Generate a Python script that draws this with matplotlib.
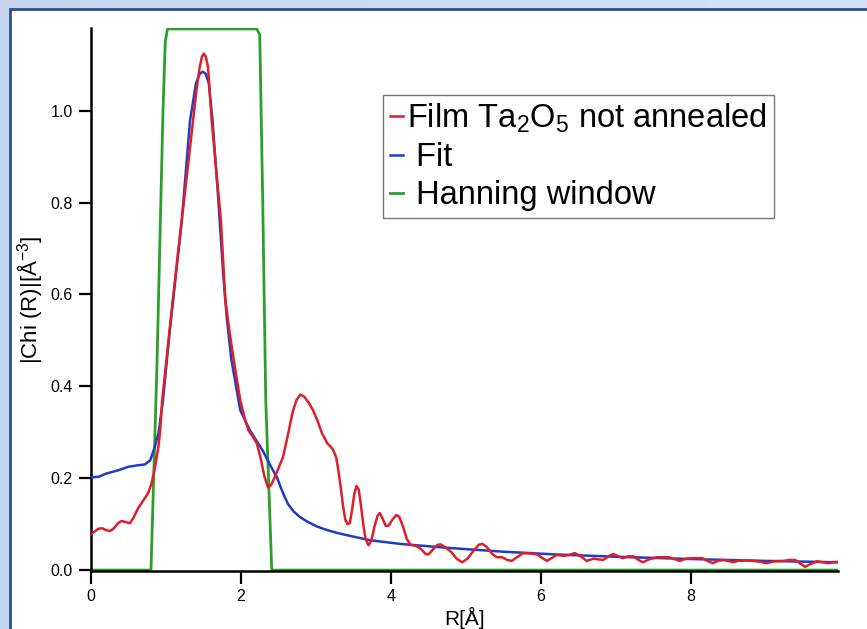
import matplotlib
matplotlib.use("Agg")
import matplotlib.pyplot as plt
import numpy as np
from matplotlib.patches import Rectangle

plt.rcParams['font.family'] = ['Liberation Sans', 'DejaVu Sans']
plt.rcParams['mathtext.default'] = 'regular'

# Film Ta2O5 not annealed (red)
film_r = [0.0, 0.05, 0.10, 0.15, 0.20, 0.25, 0.30, 0.36, 0.41, 0.47, 0.52, 0.57,
          0.63, 0.70, 0.76, 0.80, 0.83, 0.86, 0.88, 0.90, 0.92, 0.95, 1.02, 1.09,
          1.16, 1.23, 1.30, 1.36, 1.41, 1.45, 1.48, 1.505, 1.53, 1.56, 1.61, 1.67,
          1.73, 1.76, 1.79, 1.85, 1.92, 1.99, 2.05, 2.10, 2.16, 2.21, 2.26, 2.31,
          2.36, 2.40, 2.45, 2.50, 2.56, 2.62, 2.69, 2.74, 2.79, 2.84, 2.90, 2.96,
          3.02, 3.08, 3.15, 3.20, 3.23, 3.27, 3.30, 3.33, 3.36, 3.39, 3.42, 3.45,
          3.48, 3.51, 3.54, 3.57, 3.60, 3.63, 3.66, 3.70, 3.74, 3.78, 3.82, 3.85,
          3.88, 3.93, 3.97, 4.02, 4.07, 4.11, 4.16, 4.21, 4.26, 4.33, 4.40, 4.46,
          4.50, 4.56, 4.62, 4.66, 4.72, 4.80, 4.88, 4.95, 5.02, 5.10, 5.17, 5.22,
          5.28, 5.35, 5.41, 5.48, 5.55, 5.61, 5.68, 5.76, 5.85, 5.95, 6.02, 6.08,
          6.14, 6.21, 6.30, 6.38, 6.45, 6.53, 6.61, 6.70, 6.78, 6.83, 6.90, 6.96,
          7.03, 7.09, 7.16, 7.23, 7.30, 7.36, 7.45, 7.55, 7.70, 7.78, 7.85, 7.94,
          8.03, 8.15, 8.22, 8.29, 8.36, 8.43, 8.50, 8.56, 8.63, 8.70, 8.83, 8.92,
          9.01, 9.10, 9.23, 9.32, 9.39, 9.45, 9.52, 9.59, 9.68, 9.76, 9.83, 9.90, 9.96]
film_chi = [0.078, 0.084, 0.090, 0.091, 0.087, 0.085, 0.090, 0.102, 0.107, 0.104, 0.102, 0.115,
            0.135, 0.152, 0.167, 0.185, 0.205, 0.230, 0.250, 0.270, 0.300, 0.370, 0.480, 0.587,
            0.690, 0.790, 0.890, 0.978, 1.050, 1.095, 1.118, 1.124, 1.118, 1.095, 0.978, 0.870,
            0.765, 0.680, 0.590, 0.515, 0.440, 0.370, 0.330, 0.304, 0.290, 0.276, 0.245, 0.205,
            0.180, 0.185, 0.202, 0.222, 0.246, 0.290, 0.345, 0.370, 0.382, 0.378, 0.365, 0.348,
            0.325, 0.298, 0.276, 0.268, 0.261, 0.245, 0.215, 0.180, 0.140, 0.110, 0.100, 0.102,
            0.130, 0.165, 0.183, 0.175, 0.140, 0.100, 0.068, 0.054, 0.065, 0.095, 0.118, 0.124,
            0.115, 0.096, 0.097, 0.110, 0.120, 0.116, 0.095, 0.068, 0.055, 0.053, 0.046, 0.035,
            0.034, 0.045, 0.055, 0.056, 0.050, 0.040, 0.024, 0.017, 0.025, 0.042, 0.055, 0.057,
            0.050, 0.035, 0.028, 0.028, 0.022, 0.020, 0.028, 0.037, 0.036, 0.034, 0.026, 0.020,
            0.026, 0.033, 0.031, 0.033, 0.037, 0.030, 0.020, 0.025, 0.023, 0.022, 0.030, 0.035,
            0.030, 0.026, 0.030, 0.030, 0.022, 0.017, 0.024, 0.028, 0.028, 0.024, 0.020, 0.025,
            0.026, 0.026, 0.020, 0.015, 0.020, 0.022, 0.020, 0.017, 0.020, 0.021, 0.020, 0.018,
            0.015, 0.019, 0.020, 0.022, 0.022, 0.015, 0.007, 0.013, 0.019, 0.017, 0.015, 0.017, 0.018]

# Fit (blue)
fit_r = [0.0, 0.10, 0.20, 0.36, 0.50, 0.62, 0.72, 0.79, 0.85, 0.90, 0.96, 1.05,
         1.13, 1.21, 1.32, 1.40, 1.45, 1.49, 1.53, 1.57, 1.62, 1.70, 1.76, 1.81,
         1.87, 1.95, 1.99, 2.12, 2.29, 2.40, 2.48, 2.53, 2.58, 2.63, 2.70, 2.79,
         2.88, 3.01, 3.15, 3.28, 3.41, 3.72, 4.12, 4.79, 5.5, 6.2, 7.0, 8.0, 9.0, 9.96]
fit_chi = [0.202, 0.203, 0.210, 0.217, 0.225, 0.228, 0.230, 0.239, 0.268, 0.298, 0.370, 0.520,
           0.640, 0.760, 0.978, 1.060, 1.080, 1.085, 1.080, 1.060, 0.980, 0.800, 0.650, 0.550,
           0.460, 0.385, 0.348, 0.304, 0.260, 0.225, 0.202, 0.180, 0.160, 0.143, 0.128, 0.115,
           0.106, 0.095, 0.087, 0.081, 0.076, 0.065, 0.057, 0.048, 0.040, 0.034, 0.029, 0.024, 0.020, 0.017]

# Hanning window (green)
win_r = [0.0, 0.80, 0.88, 0.96, 0.99, 1.02, 2.21, 2.25, 2.29, 2.33, 2.41, 9.96]
win_chi = [0.0, 0.0, 0.45, 1.0, 1.15, 1.178, 1.178, 1.165, 0.80, 0.37, 0.0, 0.0]

red = '#e01e2a'
blue = '#1f3dc4'
green = '#2aa02a'

fig = plt.figure(figsize=(8.67, 6.29), dpi=100)

# light blue slide-like background with a white panel
bg = fig.add_axes([0, 0, 1, 1], zorder=-2)
grad = np.linspace(0, 1, 256).reshape(1, -1)
bg.imshow(grad, aspect='auto', extent=[0, 1, 0, 1],
          cmap=matplotlib.colors.LinearSegmentedColormap.from_list('bg', ['#c8d5f0', '#d6e0fa']))
bg.set_axis_off()
fig.patches.append(Rectangle((10 / 867, -0.01), 1.0, 1 - 9 / 629 + 0.01,
                             transform=fig.transFigure, facecolor='white',
                             edgecolor='#2b4f8e', linewidth=2, zorder=-1))

ax = fig.add_axes([91 / 867, 1 - 571 / 629, (838 - 91) / 867, (571 - 28) / 629])
ax.patch.set_alpha(0)

ax.plot(win_r, win_chi, color=green, lw=2, label=' Hanning window', zorder=2)
ax.plot(fit_r, fit_chi, color=blue, lw=1.8, label=' Fit', zorder=3)
ax.plot(film_r, film_chi, color=red, lw=1.8, label='Film Ta$_2$O$_5$ not annealed', zorder=4)

ax.set_xlim(0, 9.96)
ax.set_ylim(-0.002, 1.18)
ax.set_xticks([0, 2, 4, 6, 8])
ax.set_yticks([0.0, 0.2, 0.4, 0.6, 0.8, 1.0])
ax.set_yticklabels(['0.0', '0.2', '0.4', '0.6', '0.8', '1.0'])
ax.tick_params(direction='out', length=9, width=1.6, labelsize=11.5, pad=4)
for s in ['top', 'right']:
    ax.spines[s].set_visible(False)
for s in ['left', 'bottom']:
    ax.spines[s].set_linewidth(1.8)

ax.set_xlabel('R[Å]', fontsize=15, labelpad=2)
ax.set_ylabel('|Chi (R)|[Å$^{-3}$]', fontsize=16, labelpad=4)

handles, labels = ax.get_legend_handles_labels()
leg = fig.legend(handles[::-1], labels[::-1], loc='upper left',
                 bbox_to_anchor=(383 / 867, 1 - 95 / 629), bbox_transform=fig.transFigure,
                 fontsize=23.5, frameon=True, fancybox=False, handlelength=0.4,
                 handletextpad=0.15, borderpad=0.2, labelspacing=0.22, borderaxespad=0)
leg.get_frame().set_edgecolor('#555555')
leg.get_frame().set_linewidth(1)

fig.savefig('out.png', dpi=100)
